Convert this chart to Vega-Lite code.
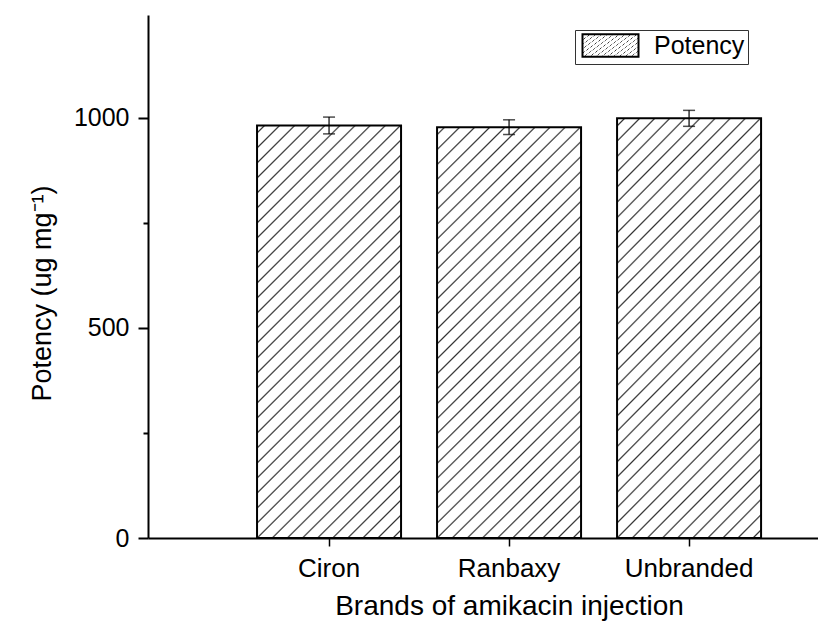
{
  "$schema": "https://vega.github.io/schema/vega-lite/v6.json",
  "autosize": {"type": "none"},
  "padding": {"left": 148, "top": 15, "right": 0, "bottom": 96},
  "width": 670,
  "height": 523,
  "background": "white",
  "config": {
    "view": {"stroke": null},
    "font": "Liberation Sans",
    "axis": {"domainColor": "black", "tickColor": "black", "labelColor": "black", "titleColor": "black", "labelFont": "Liberation Sans", "titleFont": "Liberation Sans", "titleFontWeight": "normal", "grid": false}
  },
  "data": {"values": [
    {"brand": "Ciron", "potency": 982, "sd": 20, "series": "Potency"},
    {"brand": "Ranbaxy", "potency": 978, "sd": 17.5, "series": "Potency"},
    {"brand": "Unbranded", "potency": 999, "sd": 19, "series": "Potency"}
  ]},
  "layer": [
    {
      "mark": {"type": "bar", "strokeWidth": 2, "fill": {"gradient": "linear", "x1": 0, "y1": 0, "x2": 0.4175, "y2": 1.2024, "stops": [
            {"offset":0.0105,"color":"#fff"},{"offset":0.0135,"color":"#333"},{"offset":0.0165,"color":"#fff"},
            {"offset":0.0375,"color":"#fff"},{"offset":0.0405,"color":"#333"},{"offset":0.0435,"color":"#fff"},
            {"offset":0.0645,"color":"#fff"},{"offset":0.0675,"color":"#333"},{"offset":0.0705,"color":"#fff"},
            {"offset":0.0915,"color":"#fff"},{"offset":0.0945,"color":"#333"},{"offset":0.0975,"color":"#fff"},
            {"offset":0.1185,"color":"#fff"},{"offset":0.1215,"color":"#333"},{"offset":0.1245,"color":"#fff"},
            {"offset":0.1455,"color":"#fff"},{"offset":0.1485,"color":"#333"},{"offset":0.1515,"color":"#fff"},
            {"offset":0.1725,"color":"#fff"},{"offset":0.1755,"color":"#333"},{"offset":0.1785,"color":"#fff"},
            {"offset":0.1995,"color":"#fff"},{"offset":0.2025,"color":"#333"},{"offset":0.2055,"color":"#fff"},
            {"offset":0.2265,"color":"#fff"},{"offset":0.2295,"color":"#333"},{"offset":0.2325,"color":"#fff"},
            {"offset":0.2535,"color":"#fff"},{"offset":0.2565,"color":"#333"},{"offset":0.2595,"color":"#fff"},
            {"offset":0.2805,"color":"#fff"},{"offset":0.2835,"color":"#333"},{"offset":0.2865,"color":"#fff"},
            {"offset":0.3075,"color":"#fff"},{"offset":0.3105,"color":"#333"},{"offset":0.3135,"color":"#fff"},
            {"offset":0.3345,"color":"#fff"},{"offset":0.3375,"color":"#333"},{"offset":0.3405,"color":"#fff"},
            {"offset":0.3615,"color":"#fff"},{"offset":0.3645,"color":"#333"},{"offset":0.3675,"color":"#fff"},
            {"offset":0.3885,"color":"#fff"},{"offset":0.3915,"color":"#333"},{"offset":0.3945,"color":"#fff"},
            {"offset":0.4155,"color":"#fff"},{"offset":0.4185,"color":"#333"},{"offset":0.4215,"color":"#fff"},
            {"offset":0.4425,"color":"#fff"},{"offset":0.4455,"color":"#333"},{"offset":0.4485,"color":"#fff"},
            {"offset":0.4695,"color":"#fff"},{"offset":0.4725,"color":"#333"},{"offset":0.4755,"color":"#fff"},
            {"offset":0.4965,"color":"#fff"},{"offset":0.4995,"color":"#333"},{"offset":0.5025,"color":"#fff"},
            {"offset":0.5235,"color":"#fff"},{"offset":0.5265,"color":"#333"},{"offset":0.5295,"color":"#fff"},
            {"offset":0.5505,"color":"#fff"},{"offset":0.5535,"color":"#333"},{"offset":0.5565,"color":"#fff"},
            {"offset":0.5775,"color":"#fff"},{"offset":0.5805,"color":"#333"},{"offset":0.5835,"color":"#fff"},
            {"offset":0.6045,"color":"#fff"},{"offset":0.6075,"color":"#333"},{"offset":0.6105,"color":"#fff"},
            {"offset":0.6315,"color":"#fff"},{"offset":0.6345,"color":"#333"},{"offset":0.6375,"color":"#fff"},
            {"offset":0.6585,"color":"#fff"},{"offset":0.6615,"color":"#333"},{"offset":0.6645,"color":"#fff"},
            {"offset":0.6855,"color":"#fff"},{"offset":0.6885,"color":"#333"},{"offset":0.6915,"color":"#fff"},
            {"offset":0.7125,"color":"#fff"},{"offset":0.7155,"color":"#333"},{"offset":0.7185,"color":"#fff"},
            {"offset":0.7395,"color":"#fff"},{"offset":0.7425,"color":"#333"},{"offset":0.7455,"color":"#fff"},
            {"offset":0.7665,"color":"#fff"},{"offset":0.7695,"color":"#333"},{"offset":0.7725,"color":"#fff"},
            {"offset":0.7935,"color":"#fff"},{"offset":0.7965,"color":"#333"},{"offset":0.7995,"color":"#fff"},
            {"offset":0.8205,"color":"#fff"},{"offset":0.8235,"color":"#333"},{"offset":0.8265,"color":"#fff"},
            {"offset":0.8475,"color":"#fff"},{"offset":0.8505,"color":"#333"},{"offset":0.8535,"color":"#fff"},
            {"offset":0.8745,"color":"#fff"},{"offset":0.8775,"color":"#333"},{"offset":0.8805,"color":"#fff"},
            {"offset":0.9015,"color":"#fff"},{"offset":0.9045,"color":"#333"},{"offset":0.9075,"color":"#fff"},
            {"offset":0.9285,"color":"#fff"},{"offset":0.9315,"color":"#333"},{"offset":0.9345,"color":"#fff"},
            {"offset":0.9555,"color":"#fff"},{"offset":0.9585,"color":"#333"},{"offset":0.9615,"color":"#fff"},
            {"offset":0.9825,"color":"#fff"},{"offset":0.9855,"color":"#333"},{"offset":0.9885,"color":"#fff"}
          ]}},
      "encoding": {
        "x": {"field": "brand", "type": "nominal", "sort": null,
          "scale": {"paddingInner": 0.2, "paddingOuter": 0.461, "align": 0.657},
          "axis": {"title": "Brands of amikacin injection", "labelAngle": 0, "labelFontSize": 26, "titleFontSize": 28, "tickSize": 8, "tickWidth": 1.5, "domainWidth": 2, "labelPadding": 9, "titleX": 361, "titleY": 54, "titleBaseline": "top", "titleAlign": "center", "titleAnchor": "middle"}},
        "y": {"field": "potency", "type": "quantitative",
          "scale": {"domain": [0, 1245], "nice": false, "zero": true},
          "axis": {"title": "Potency (ug mg⁻¹)", "values": [0, 250, 500, 750, 1000], "labelExpr": "datum.value % 500 === 0 ? datum.label : ''", "format": "d", "labelFontSize": 25, "titleFontSize": 27, "tickSize": 10, "tickDash": {"condition": {"test": "datum.value % 500 === 0", "value": []}, "value": [5, 20]}, "tickWidth": 2, "domainWidth": 2, "labelPadding": 9, "titleX": -106, "titleY": 278, "titleBaseline": "middle", "titleAlign": "center", "titleAnchor": "middle"}},
        "stroke": {"field": "series", "type": "nominal",
          "scale": {"range": ["black"]},
          "legend": {"title": null, "orient": "none", "legendX": 427, "legendY": 15, "strokeColor": "#333", "padding": 3, "labelFontSize": 25, "labelColor": "black", "labelFont": "Liberation Sans", "labelOffset": 31, "symbolOffset": 20, "symbolType": "M-4,-1.6H4V1.6H-4Z", "symbolSize": 196, "symbolStrokeWidth": 2,
            "encode": {"symbols": {"update": {"fill": {"value": {"gradient": "linear", "x1": 0, "y1": 0, "x2": 1.207, "y2": 0.474, "stops": [
              {"offset":0.13,"color":"#fff"},{"offset":0.15,"color":"#333"},{"offset":0.17,"color":"#fff"},
              {"offset":0.335,"color":"#fff"},{"offset":0.355,"color":"#333"},{"offset":0.375,"color":"#fff"},
              {"offset":0.54,"color":"#fff"},{"offset":0.56,"color":"#333"},{"offset":0.58,"color":"#fff"},
              {"offset":0.745,"color":"#fff"},{"offset":0.765,"color":"#333"},{"offset":0.785,"color":"#fff"}
            ]}}}}}}
        }
      }
    },
    {
      "mark": {"type": "errorbar", "ticks": {"size": 12, "color": "black", "thickness": 1.5}, "rule": {"color": "black", "strokeWidth": 1.2}},
      "encoding": {
        "x": {"field": "brand", "type": "nominal", "sort": null},
        "y": {"field": "potency", "type": "quantitative", "title": "Potency (ug mg⁻¹)"},
        "yError": {"field": "sd"}
      }
    }
  ]
}
